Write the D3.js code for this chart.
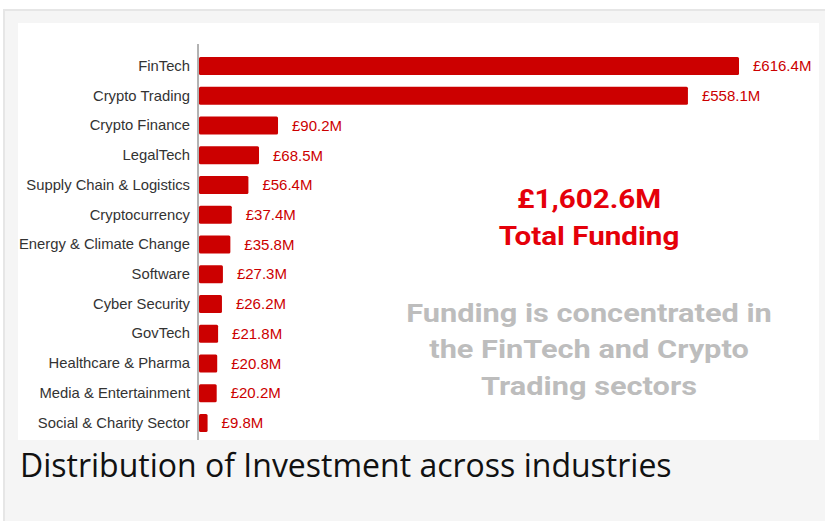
<!DOCTYPE html>
<html>
<head>
<meta charset="utf-8">
<script src="https://cdn.jsdelivr.net/npm/d3@7"></script>
<style>
  html, body { margin: 0; padding: 0; background: #fff; }
  #frame {
    position: absolute; left: 3px; top: 9px; width: 822px; height: 512px;
    background: #f5f5f5; border-top: 2px solid #e6e6e6; border-left: 2px solid #e6e6e6;
    box-sizing: border-box;
  }
  #chart { position: absolute; left: 0; top: 0; }
</style>
</head>
<body>
<div id="frame"></div>
<div id="chart"></div>
<script>
'use strict';

//categories and funding values (£M)
const sectors = ['FinTech', 'Crypto Trading', 'Crypto Finance', 'LegalTech', 'Supply Chain & Logistics',
  'Cryptocurrency', 'Energy & Climate Change', 'Software', 'Cyber Security', 'GovTech',
  'Healthcare & Pharma', 'Media & Entertainment', 'Social & Charity Sector'];
const funding = [616.4, 558.1, 90.2, 68.5, 56.4, 37.4, 35.8, 27.3, 26.2, 21.8, 20.8, 20.2, 9.8];
const valueLabels = ['£616.4M', '£558.1M', '£90.2M', '£68.5M', '£56.4M', '£37.4M', '£35.8M',
  '£27.3M', '£26.2M', '£21.8M', '£20.8M', '£20.2M', '£9.8M'];
const headline = ['£1,602.6M', 'Total Funding'];
const note = ['Funding is concentrated in', 'the FinTech and Crypto', 'Trading sectors'];
const caption = 'Distribution of Investment across industries';

let data = sectors.map(function(s, i) { return { sector: s, value: funding[i], label: valueLabels[i] }; });

let svg = d3.select('#chart').append('svg').attr('width', 825).attr('height', 521);

//white chart panel
svg.append('rect').attr('x', 18).attr('y', 23).attr('width', 801).attr('height', 417).attr('fill', '#fff');

let margin = { top: 51, left: 199, bottom: 438 };
let x = d3.scaleLinear().domain([0, 616.4]).range([margin.left, 739]);
let y = d3.scaleBand().domain(sectors).range([margin.top, margin.bottom]).paddingInner(0.39).paddingOuter(0.2);

//bars
svg.selectAll('.bar').data(data).enter().append('rect')
  .attr('class', 'bar')
  .attr('x', x(0))
  .attr('y', function(d) { return y(d.sector); })
  .attr('width', function(d) { return x(d.value) - x(0); })
  .attr('height', y.bandwidth())
  .attr('rx', 1.5)
  .attr('fill', '#cc0000');

//category axis
let yAxis = d3.axisLeft(y).tickSize(0).tickPadding(8);
let gy = svg.append('g').attr('transform', 'translate(' + (margin.left - 1) + ',0)').call(yAxis);
gy.select('.domain').attr('stroke', '#666').attr('d', 'M0,44V440');
gy.selectAll('text').attr('font-family', '"Liberation Sans", Arial, sans-serif').attr('font-size', 14.8).attr('fill', '#333');

//value labels
svg.selectAll('.val').data(data).enter().append('text')
  .attr('class', 'val')
  .attr('x', function(d) { return x(d.value) + 14; })
  .attr('y', function(d) { return y(d.sector) + y.bandwidth() / 2; })
  .attr('dy', '0.35em')
  .attr('font-family', '"Liberation Sans", Arial, sans-serif').attr('font-size', 15).attr('fill', '#cc0000')
  .text(function(d) { return d.label; });

//headline and note (the source image is stretched a bit sideways)
let gh = svg.append('g').attr('transform', 'translate(589,0) scale(1.16,1)');
gh.selectAll('.head').data(headline).enter().append('text')
  .attr('x', 0).attr('y', function(d, i) { return 208 + i * 37; })
  .attr('text-anchor', 'middle')
  .attr('font-family', 'Roboto, sans-serif').attr('font-weight', 'bold').attr('font-size', 25.5)
  .attr('fill', '#e5000a')
  .text(function(d) { return d; });

gh.selectAll('.note').data(note).enter().append('text')
  .attr('x', 0).attr('y', function(d, i) { return 322 + i * 36.5; })
  .attr('text-anchor', 'middle')
  .attr('font-family', 'Roboto, sans-serif').attr('font-weight', 'bold').attr('font-size', 26.5)
  .attr('fill', '#bdbdbd')
  .text(function(d) { return d; });

//caption under the picture
svg.append('text').attr('x', 20).attr('y', 477)
  .attr('font-family', '"Open Sans", sans-serif').attr('font-size', 32).attr('fill', '#111')
  .text(caption);
</script>
</body>
</html>
